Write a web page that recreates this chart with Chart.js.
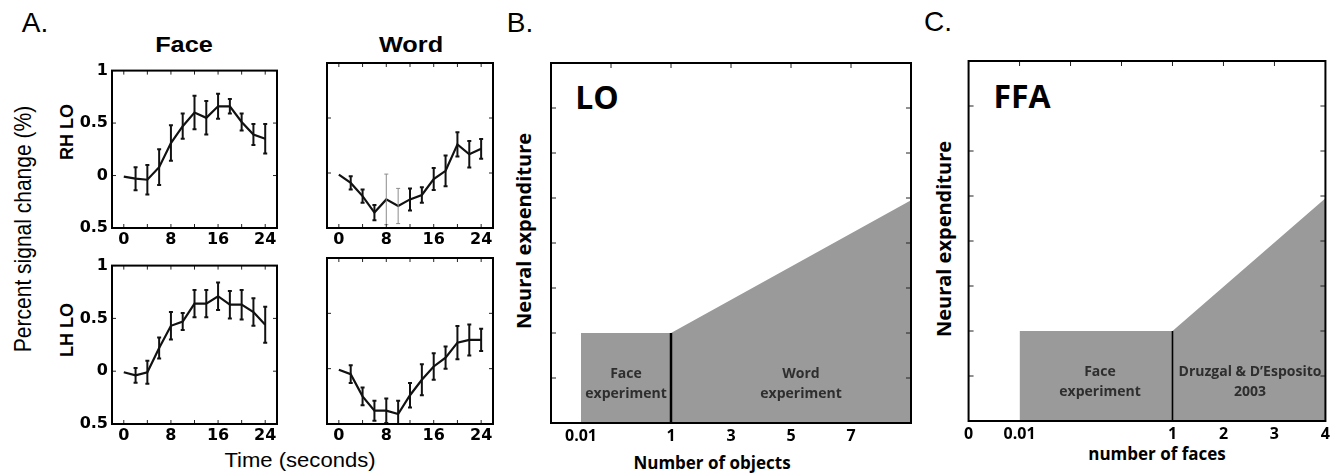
<!DOCTYPE html>
<html>
<head>
<meta charset="utf-8">
<script src="https://cdn.jsdelivr.net/npm/chart.js@4.4.0/dist/chart.umd.min.js"></script>
<style>
  body { margin: 0; background: #fff; width: 1341px; height: 473px; position: relative; overflow: hidden; }
  .box { position: absolute; }
  .t { position: absolute; white-space: nowrap; line-height: 1; color: #000; font-family: "Liberation Sans", Arial, sans-serif; }
  .os { font-family: "Open Sans", sans-serif; }
</style>
</head>
<body>

<div class="t" style="left:35px;top:23px;font-size:28px;transform:translate(-50%,-50%)">A.</div>
<div class="t" style="left:520px;top:23px;font-size:28px;transform:translate(-50%,-50%)">B.</div>
<div class="t" style="left:938px;top:22px;font-size:28px;transform:translate(-50%,-50%)">C.</div>

<div class="t" style="left:184px;top:45px;font-size:22px;font-weight:bold;transform:translate(-50%,-50%) scaleX(1.15)">Face</div>
<div class="t" style="left:411px;top:45px;font-size:22px;font-weight:bold;transform:translate(-50%,-50%) scaleX(1.15)">Word</div>
<div class="t" style="left:67px;top:132px;font-size:18px;font-weight:bold;transform:translate(-50%,-50%) rotate(-90deg)">RH LO</div>
<div class="t" style="left:67px;top:330px;font-size:18px;font-weight:bold;transform:translate(-50%,-50%) rotate(-90deg)">LH LO</div>
<div class="t" style="left:22px;top:229px;font-size:21px;transform:translate(-50%,-50%) rotate(-90deg) scaleY(1.15)">Percent signal change (%)</div>
<div class="t" style="left:300px;top:459px;font-size:21px;transform:translate(-50%,-50%) scaleX(1.05)">Time (seconds)</div>

<div class="t os" style="left:597px;top:97px;font-size:32px;font-weight:bold;transform:translate(-50%,-50%)">LO</div>
<div class="t os" style="left:1022px;top:96px;font-size:32px;font-weight:bold;transform:translate(-50%,-50%)">FFA</div>
<div class="t os" style="left:524px;top:231px;font-size:20px;font-weight:bold;transform:translate(-50%,-50%) rotate(-90deg)">Neural expenditure</div>
<div class="t os" style="left:944px;top:239px;font-size:20px;font-weight:bold;transform:translate(-50%,-50%) rotate(-90deg)">Neural expenditure</div>
<div class="t os" style="left:712px;top:462px;font-size:17px;font-weight:bold;transform:translate(-50%,-50%)">Number of objects</div>
<div class="t os" style="left:1157px;top:453px;font-size:17px;font-weight:bold;transform:translate(-50%,-50%)">number of faces</div>

<div class="t os" style="left:626px;top:383px;font-size:14px;font-weight:bold;line-height:20px;color:#2e2e2e;text-align:center;transform:translate(-50%,-50%);z-index:2">Face<br>experiment</div>
<div class="t os" style="left:801px;top:383px;font-size:14px;font-weight:bold;line-height:20px;color:#2e2e2e;text-align:center;transform:translate(-50%,-50%);z-index:2">Word<br>experiment</div>
<div class="t os" style="left:1100px;top:381px;font-size:14px;font-weight:bold;line-height:20px;color:#2e2e2e;text-align:center;transform:translate(-50%,-50%);z-index:2">Face<br>experiment</div>
<div class="t os" style="left:1250px;top:381px;font-size:14px;font-weight:bold;line-height:20px;color:#2e2e2e;text-align:center;transform:translate(-50%,-50%);z-index:2">Druzgal &amp; D’Esposito<br>2003</div>

<script>
// panel A: time courses (seconds) and percent signal change
const timeSec = [0, 2, 4, 6, 8, 10, 12, 14, 16, 18, 20, 22, 24];
const timeTicks = [0, 4, 8, 12, 16, 20, 24];
const timeLabels = ['0', '', '8', '', '16', '', '24'];
const pscTicks = [-0.5, 0, 0.5, 1];
const pscLabels = ['0.5', '0', '0.5', '1'];

const faceRH    = [-0.01, -0.03, -0.04, 0.08, 0.31, 0.47, 0.60, 0.55, 0.66, 0.66, 0.51, 0.39, 0.35];
const faceRHErr = [0, 0.11, 0.14, 0.17, 0.17, 0.12, 0.16, 0.16, 0.12, 0.07, 0.08, 0.10, 0.14];
const wordRH    = [-0.015, -0.09, -0.21, -0.36, -0.24, -0.30, -0.24, -0.20, -0.055, 0.02, 0.26, 0.17, 0.22];
const wordRHErr = [0, 0.06, 0.06, 0.07, 0.23, 0.16, 0.10, 0.07, 0.10, 0.14, 0.11, 0.12, 0.09];
const wordRHThin = [8, 10];   // these two bars are drawn thin/grey in the original
const faceLH    = [-0.01, -0.04, -0.01, 0.22, 0.43, 0.47, 0.64, 0.64, 0.71, 0.63, 0.63, 0.56, 0.44];
const faceLHErr = [0, 0.07, 0.11, 0.10, 0.13, 0.08, 0.13, 0.13, 0.13, 0.13, 0.14, 0.13, 0.17];
const wordLH    = [-0.01, -0.05, -0.25, -0.38, -0.38, -0.41, -0.24, -0.10, 0.02, 0.10, 0.235, 0.26, 0.26];
const wordLHErr = [0, 0.08, 0.08, 0.09, 0.11, 0.12, 0.11, 0.14, 0.12, 0.10, 0.15, 0.14, 0.10];

// panel B: LO model (x positions are axis slots, labels below)
const loEdgeX = [-2, 1, 9];
const loLevel = [2, 2, 4.95];
const loTickPos = [-2, 1, 3, 5, 7];
const loTickLabels = ['0.01', '1', '3', '5', '7'];
const loTopTicks = [-1, 1, 3, 5, 7];

// panel C: FFA model
const ffaEdgeX = [-2, 1, 4];
const ffaLevel = [2, 2, 4.95];
const ffaTickPos = [-3, -2, 1, 2, 3, 4];
const ffaTickLabels = ['0', '0.01', '1', '2', '3', '4'];
const ffaTopTicks = [-2, -1, 0, 1, 2, 3];

const neuralTicks = [1, 2, 3, 4, 5, 6, 7];
const fillGrey = '#9a9a9a';

function makeCanvas(left, top, w, h) {
    const d = document.createElement('div');
    d.className = 'box';
    d.style.cssText = `left:${left}px;top:${top}px;width:${w}px;height:${h}px`;
    const c = document.createElement('canvas');
    c.width = w; c.height = h;
    c.style.width = w + 'px'; c.style.height = h + 'px';
    d.appendChild(c);
    document.body.appendChild(d);
    return c;
}

// inward tick marks + box frame (matlab style)
function framePlugin(o) {
    return {
        id: 'frame',
        afterDatasetsDraw(chart) {
            const { ctx, chartArea: a, scales } = chart;
            const L = o.len || 4;
            ctx.save();
            ctx.strokeStyle = '#222';
            ctx.lineWidth = 1;
            ctx.beginPath();
            (o.xTop || []).forEach(v => {
                const x = scales.x.getPixelForValue(v);
                ctx.moveTo(x, a.top); ctx.lineTo(x, a.top + L);
            });
            (o.xBottom || []).forEach(v => {
                const x = scales.x.getPixelForValue(v);
                ctx.moveTo(x, a.bottom); ctx.lineTo(x, a.bottom - L);
            });
            (o.yTicks || []).forEach(v => {
                const y = scales.y.getPixelForValue(v);
                ctx.moveTo(a.left, y); ctx.lineTo(a.left + L, y);
                ctx.moveTo(a.right, y); ctx.lineTo(a.right - L, y);
            });
            ctx.stroke();
            ctx.strokeStyle = '#000';
            ctx.lineWidth = o.width || 2;
            ctx.strokeRect(a.left, a.top, a.width, a.height);
            ctx.restore();
        }
    };
}

function errorBarPlugin(xs, ys, errs, thin) {
    return {
        id: 'errorBars',
        afterDatasetsDraw(chart) {
            const { ctx, chartArea: a, scales: { x, y } } = chart;
            ctx.save();
            ctx.beginPath();
            ctx.rect(a.left, a.top, a.width, a.height);
            ctx.clip();
            errs.forEach((e, i) => {
                if (!e) return;
                const px = x.getPixelForValue(xs[i]);
                const hi = y.getPixelForValue(ys[i] + e);
                const lo = y.getPixelForValue(ys[i] - e);
                const isThin = thin.includes(xs[i]);
                ctx.strokeStyle = isThin ? '#8c8c8c' : '#111';
                ctx.lineWidth = isThin ? 1 : 2;
                ctx.beginPath();
                ctx.moveTo(px, hi); ctx.lineTo(px, lo);
                ctx.moveTo(px - 2, hi); ctx.lineTo(px + 2, hi);
                ctx.moveTo(px - 2, lo); ctx.lineTo(px + 2, lo);
                ctx.stroke();
            });
            ctx.restore();
        }
    };
}

const tickFontA = { family: 'DejaVu Sans', weight: 'bold', size: 16 };

function timePanel(area, values, errs, thin, showY) {
    const YW = showY ? 46 : 8, XH = 24, PT = 6, PR = 6;
    const cv = makeCanvas(area.left - YW, area.top - PT, YW + area.w + PR, PT + area.h + XH);
    new Chart(cv.getContext('2d'), {
        type: 'line',
        data: {
            datasets: [{
                data: timeSec.map((t, i) => ({ x: t, y: values[i] })),
                borderColor: '#111',
                borderWidth: 2.2,
                pointRadius: 0,
                tension: 0
            }]
        },
        options: {
            responsive: false,
            animation: false,
            layout: { padding: { top: PT, right: PR, left: 0, bottom: 0 } },
            plugins: { legend: { display: false }, tooltip: { enabled: false } },
            scales: {
                x: {
                    type: 'linear', min: -2, max: 26,
                    afterBuildTicks: s => { s.ticks = timeTicks.map(v => ({ value: v })); },
                    afterFit: s => { s.height = XH; },
                    grid: { display: false, drawTicks: false },
                    border: { display: false },
                    ticks: {
                        autoSkip: false, maxRotation: 0, padding: 2, color: '#000', font: tickFontA,
                        callback: v => timeLabels[timeTicks.indexOf(v)]
                    }
                },
                y: {
                    type: 'linear', min: -0.5, max: 1,
                    afterBuildTicks: s => { s.ticks = pscTicks.map(v => ({ value: v })); },
                    afterFit: s => { s.width = YW; },
                    grid: { display: false, drawTicks: false },
                    border: { display: false },
                    ticks: {
                        display: showY, padding: 4, color: '#000', font: tickFontA,
                        callback: v => pscLabels[pscTicks.indexOf(v)]
                    }
                }
            }
        },
        plugins: [
            errorBarPlugin(timeSec, values, errs, thin),
            framePlugin({ xTop: timeTicks, xBottom: timeTicks, yTicks: pscTicks, width: 2 })
        ]
    });
}

timePanel({ left: 112, top: 63, w: 165, h: 165 }, faceRH, faceRHErr, [], true);
timePanel({ left: 327, top: 63, w: 166, h: 165 }, wordRH, wordRHErr, wordRHThin, false);
timePanel({ left: 112, top: 258, w: 165, h: 166 }, faceLH, faceLHErr, [], true);
timePanel({ left: 327, top: 258, w: 166, h: 166 }, wordLH, wordLHErr, [], false);

function modelPanel(area, xMin, xMax, edgeX, level, tickPos, tickLabels, topTicks, dividerWidth) {
    const YW = 6, XH = 30, PT = 6, PR = 6;
    const cv = makeCanvas(area.left - YW, area.top - PT, YW + area.w + PR, PT + area.h + XH);
    new Chart(cv.getContext('2d'), {
        type: 'line',
        data: {
            datasets: [{
                data: edgeX.map((x, i) => ({ x: x, y: level[i] })),
                backgroundColor: fillGrey,
                borderWidth: 0,
                pointRadius: 0,
                tension: 0,
                fill: 'origin',
                order: 2
            }, {
                // boundary between the two experiments
                data: [{ x: edgeX[1], y: 0 }, { x: edgeX[1], y: level[1] }],
                borderColor: '#000',
                borderWidth: dividerWidth,
                pointRadius: 0,
                fill: false,
                order: 1
            }]
        },
        options: {
            responsive: false,
            animation: false,
            layout: { padding: { top: PT, right: PR, left: 0, bottom: 0 } },
            plugins: { legend: { display: false }, tooltip: { enabled: false } },
            scales: {
                x: {
                    type: 'linear', min: xMin, max: xMax,
                    afterBuildTicks: s => { s.ticks = tickPos.map(v => ({ value: v })); },
                    afterFit: s => { s.height = XH; },
                    grid: { display: false, drawTicks: false },
                    border: { display: false },
                    ticks: {
                        autoSkip: false, maxRotation: 0, padding: 4, color: '#000',
                        font: { family: 'Open Sans', weight: 'bold', size: 16 },
                        callback: v => tickLabels[tickPos.indexOf(v)]
                    }
                },
                y: {
                    type: 'linear', min: 0, max: 8,
                    afterFit: s => { s.width = YW; },
                    grid: { display: false, drawTicks: false },
                    border: { display: false },
                    ticks: { display: false }
                }
            }
        },
        plugins: [framePlugin({ xTop: topTicks, yTicks: neuralTicks, width: 2, len: 5 })]
    });
}

modelPanel({ left: 551, top: 63, w: 360, h: 360 }, -3, 9, loEdgeX, loLevel, loTickPos, loTickLabels, loTopTicks, 2.5);
modelPanel({ left: 966, top: 61, w: 362, h: 360 }, -3, 4, ffaEdgeX, ffaLevel, ffaTickPos, ffaTickLabels, ffaTopTicks, 1.6);
</script>
</body>
</html>
